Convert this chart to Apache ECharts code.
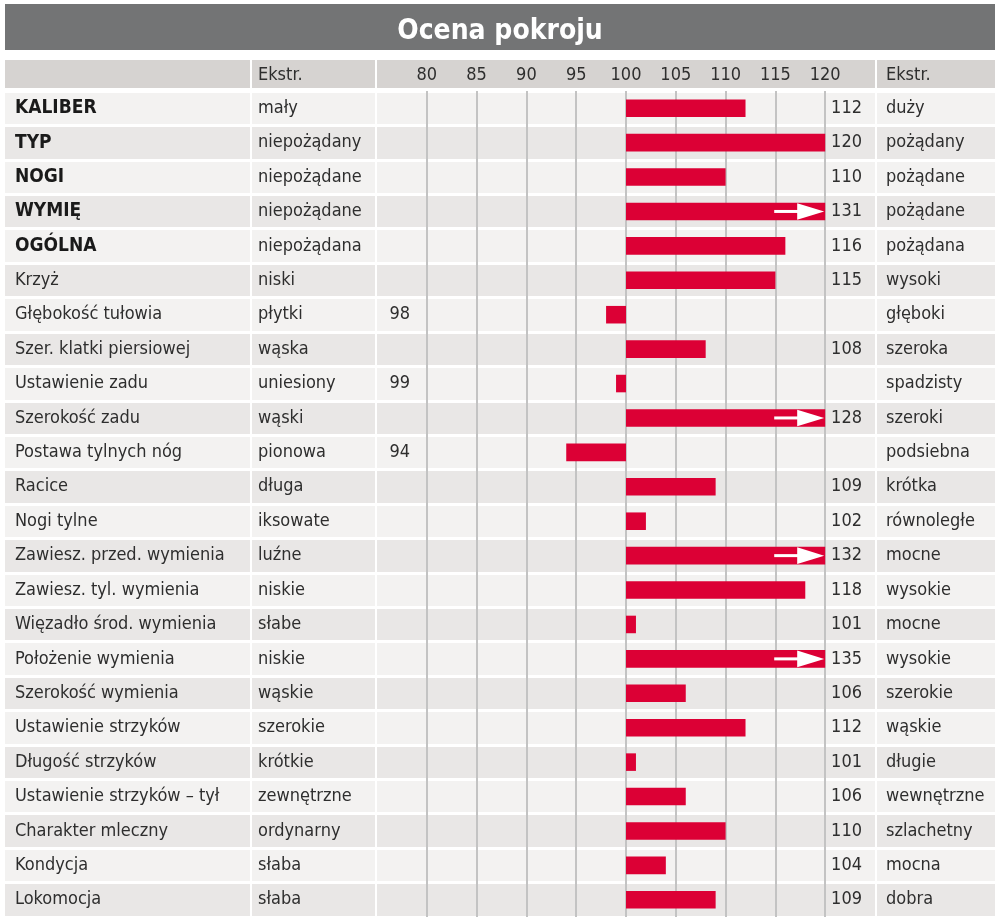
<!DOCTYPE html>
<html>
<head>
<meta charset="utf-8">
<script src="https://cdn.jsdelivr.net/npm/echarts@6/dist/echarts.min.js"></script>
<style>html,body{margin:0;padding:0;background:#fff}#c{width:1000px;height:921px}</style>
</head>
<body>
<div id="c"></div>
<script>
const categories = ["KALIBER","TYP","NOGI","WYMIĘ","OGÓLNA","Krzyż","Głębokość tułowia","Szer. klatki piersiowej","Ustawienie zadu","Szerokość zadu","Postawa tylnych nóg","Racice","Nogi tylne","Zawiesz. przed. wymienia","Zawiesz. tyl. wymienia","Więzadło środ. wymienia","Położenie wymienia","Szerokość wymienia","Ustawienie strzyków","Długość strzyków","Ustawienie strzyków – tył","Charakter mleczny","Kondycja","Lokomocja"];
const lowExtremes = ["mały","niepożądany","niepożądane","niepożądane","niepożądana","niski","płytki","wąska","uniesiony","wąski","pionowa","długa","iksowate","luźne","niskie","słabe","niskie","wąskie","szerokie","krótkie","zewnętrzne","ordynarny","słaba","słaba"];
const highExtremes = ["duży","pożądany","pożądane","pożądane","pożądana","wysoki","głęboki","szeroka","spadzisty","szeroki","podsiebna","krótka","równoległe","mocne","wysokie","mocne","wysokie","szerokie","wąskie","długie","wewnętrzne","szlachetny","mocna","dobra"];
const values = [112,120,110,131,116,115,98,108,99,128,94,109,102,132,118,101,135,106,112,101,106,110,104,109];
const ticks = [80,85,90,95,100,105,110,115,120];
const boldCount = 5;
const titleText = "Ocena pokroju";
const headerText = "Ekstr.";

const BASE = 100, CAP = 120, XMIN = 75, XMAX = 125;
const FONT = '"Liberation Sans Narrow", "DejaVu Sans Condensed", "Roboto Condensed", "Noto Sans", sans-serif';
const TXT = '#2e2e2e', RED = '#dc0035', LIGHT = '#f3f2f1', DARK = '#e9e7e6', HEAD = '#d6d3d1';
const FS = 18;
const TOP = 91, BOTTOM = 4;
const cols = [[5, 250], [252, 375], [377, 875], [877, 995]];

const chart = echarts.init(document.getElementById('c'));

function grid(c) { return { left: c[0], width: c[1] - c[0], top: TOP, bottom: BOTTOM, containLabel: false, outerBoundsMode: 'none' }; }

function textY(g, margin) {
  return {
    gridIndex: g, type: 'category', data: categories, inverse: true,
    axisLine: { show: false }, axisTick: { show: false },
    axisLabel: { show: true, inside: true, margin: margin, interval: 0, color: TXT, fontFamily: FONT, fontSize: FS, align: 'left' },
    splitArea: { show: true, interval: 0, areaStyle: { color: [LIGHT, DARK] } },
    splitLine: { show: true, interval: 0, lineStyle: { color: '#ffffff', width: 3 } }
  };
}

const yAxes = [textY(0, 10), textY(1, 6), textY(2, 0), textY(3, 9)];
yAxes[0].axisLabel.formatter = (v, i) => i < boldCount ? '{b|' + v + '}' : v;
yAxes[0].axisLabel.rich = { b: { fontWeight: 'bold', fontSize: FS + 1, fontFamily: FONT, color: '#1a1a1a' } };
yAxes[1].axisLabel.formatter = (v, i) => lowExtremes[i];
yAxes[2].axisLabel.show = false;
yAxes[3].axisLabel.formatter = (v, i) => highExtremes[i];

const hiddenX = g => ({ gridIndex: g, type: 'value', show: false });

const option = {
  animation: false,
  backgroundColor: '#ffffff',
  title: {
    text: titleText, left: 'center', top: 10,
    textStyle: { color: '#ffffff', fontSize: 28, fontWeight: 'bold', fontFamily: FONT, lineHeight: 34 }
  },
  graphic: [
    { type: 'rect', z: -10, shape: { x: 5, y: 4, width: 990, height: 46 }, style: { fill: '#737475' } },
    ...cols.map(c => ({ type: 'rect', z: -10, shape: { x: c[0], y: 60, width: c[1] - c[0], height: 28 }, style: { fill: HEAD } })),
    { type: 'text', style: { text: headerText, x: 258, y: 75, verticalAlign: 'middle', fill: TXT, font: FS + 'px ' + FONT } },
    { type: 'text', style: { text: headerText, x: 886, y: 75, verticalAlign: 'middle', fill: TXT, font: FS + 'px ' + FONT } }
  ],
  grid: cols.map(grid),
  xAxis: [
    hiddenX(0), hiddenX(1),
    {
      gridIndex: 2, type: 'value', position: 'top', min: XMIN, max: XMAX, interval: 5, z: 1,
      axisLine: { show: false }, axisTick: { show: false },
      axisLabel: {
        margin: 16, verticalAlign: 'middle', color: TXT, fontFamily: FONT, fontSize: FS,
        formatter: v => ticks.indexOf(v) >= 0 ? String(v) : ''
      },
      splitLine: { show: true, showMinLine: false, showMaxLine: false, lineStyle: { color: '#c3c3c3', width: 2 } }
    },
    hiddenX(3)
  ],
  yAxis: yAxes,
  series: [{
    type: 'custom',
    xAxisIndex: 2, yAxisIndex: 2,
    clip: false,
    data: values.map((v, i) => [v, i]),
    renderItem: function (params, api) {
      const v = api.value(0), i = api.value(1);
      const pBase = api.coord([BASE, i]);
      const pEnd = api.coord([Math.min(v, CAP), i]);
      const y = pBase[1];
      const band = api.size([0, 1])[1];
      const h = band * 0.51;
      const x0 = Math.min(pBase[0], pEnd[0]), x1 = Math.max(pBase[0], pEnd[0]);
      const children = [{ type: 'rect', shape: { x: x0, y: y - h / 2, width: x1 - x0, height: h }, style: { fill: RED } }];
      if (v > CAP) {
        const tipX = pEnd[0] - 1;
        children.push({ type: 'rect', shape: { x: tipX - 50, y: y - 1.5, width: 24, height: 3 }, style: { fill: '#ffffff' } });
        children.push({ type: 'polygon', shape: { points: [[tipX - 27, y - h / 2 + 0.5], [tipX, y], [tipX - 27, y + h / 2 - 0.5]] }, style: { fill: '#ffffff' } });
      }
      const lx = v >= BASE ? api.coord([XMAX, i])[0] - 13 : api.coord([XMIN, i])[0] + 33;
      children.push({ type: 'text', style: { text: String(v), x: lx, y: y, align: 'right', verticalAlign: 'middle', fill: TXT, font: FS + 'px ' + FONT } });
      return { type: 'group', children: children };
    }
  }]
};
chart.setOption(option);
</script>
</body>
</html>
